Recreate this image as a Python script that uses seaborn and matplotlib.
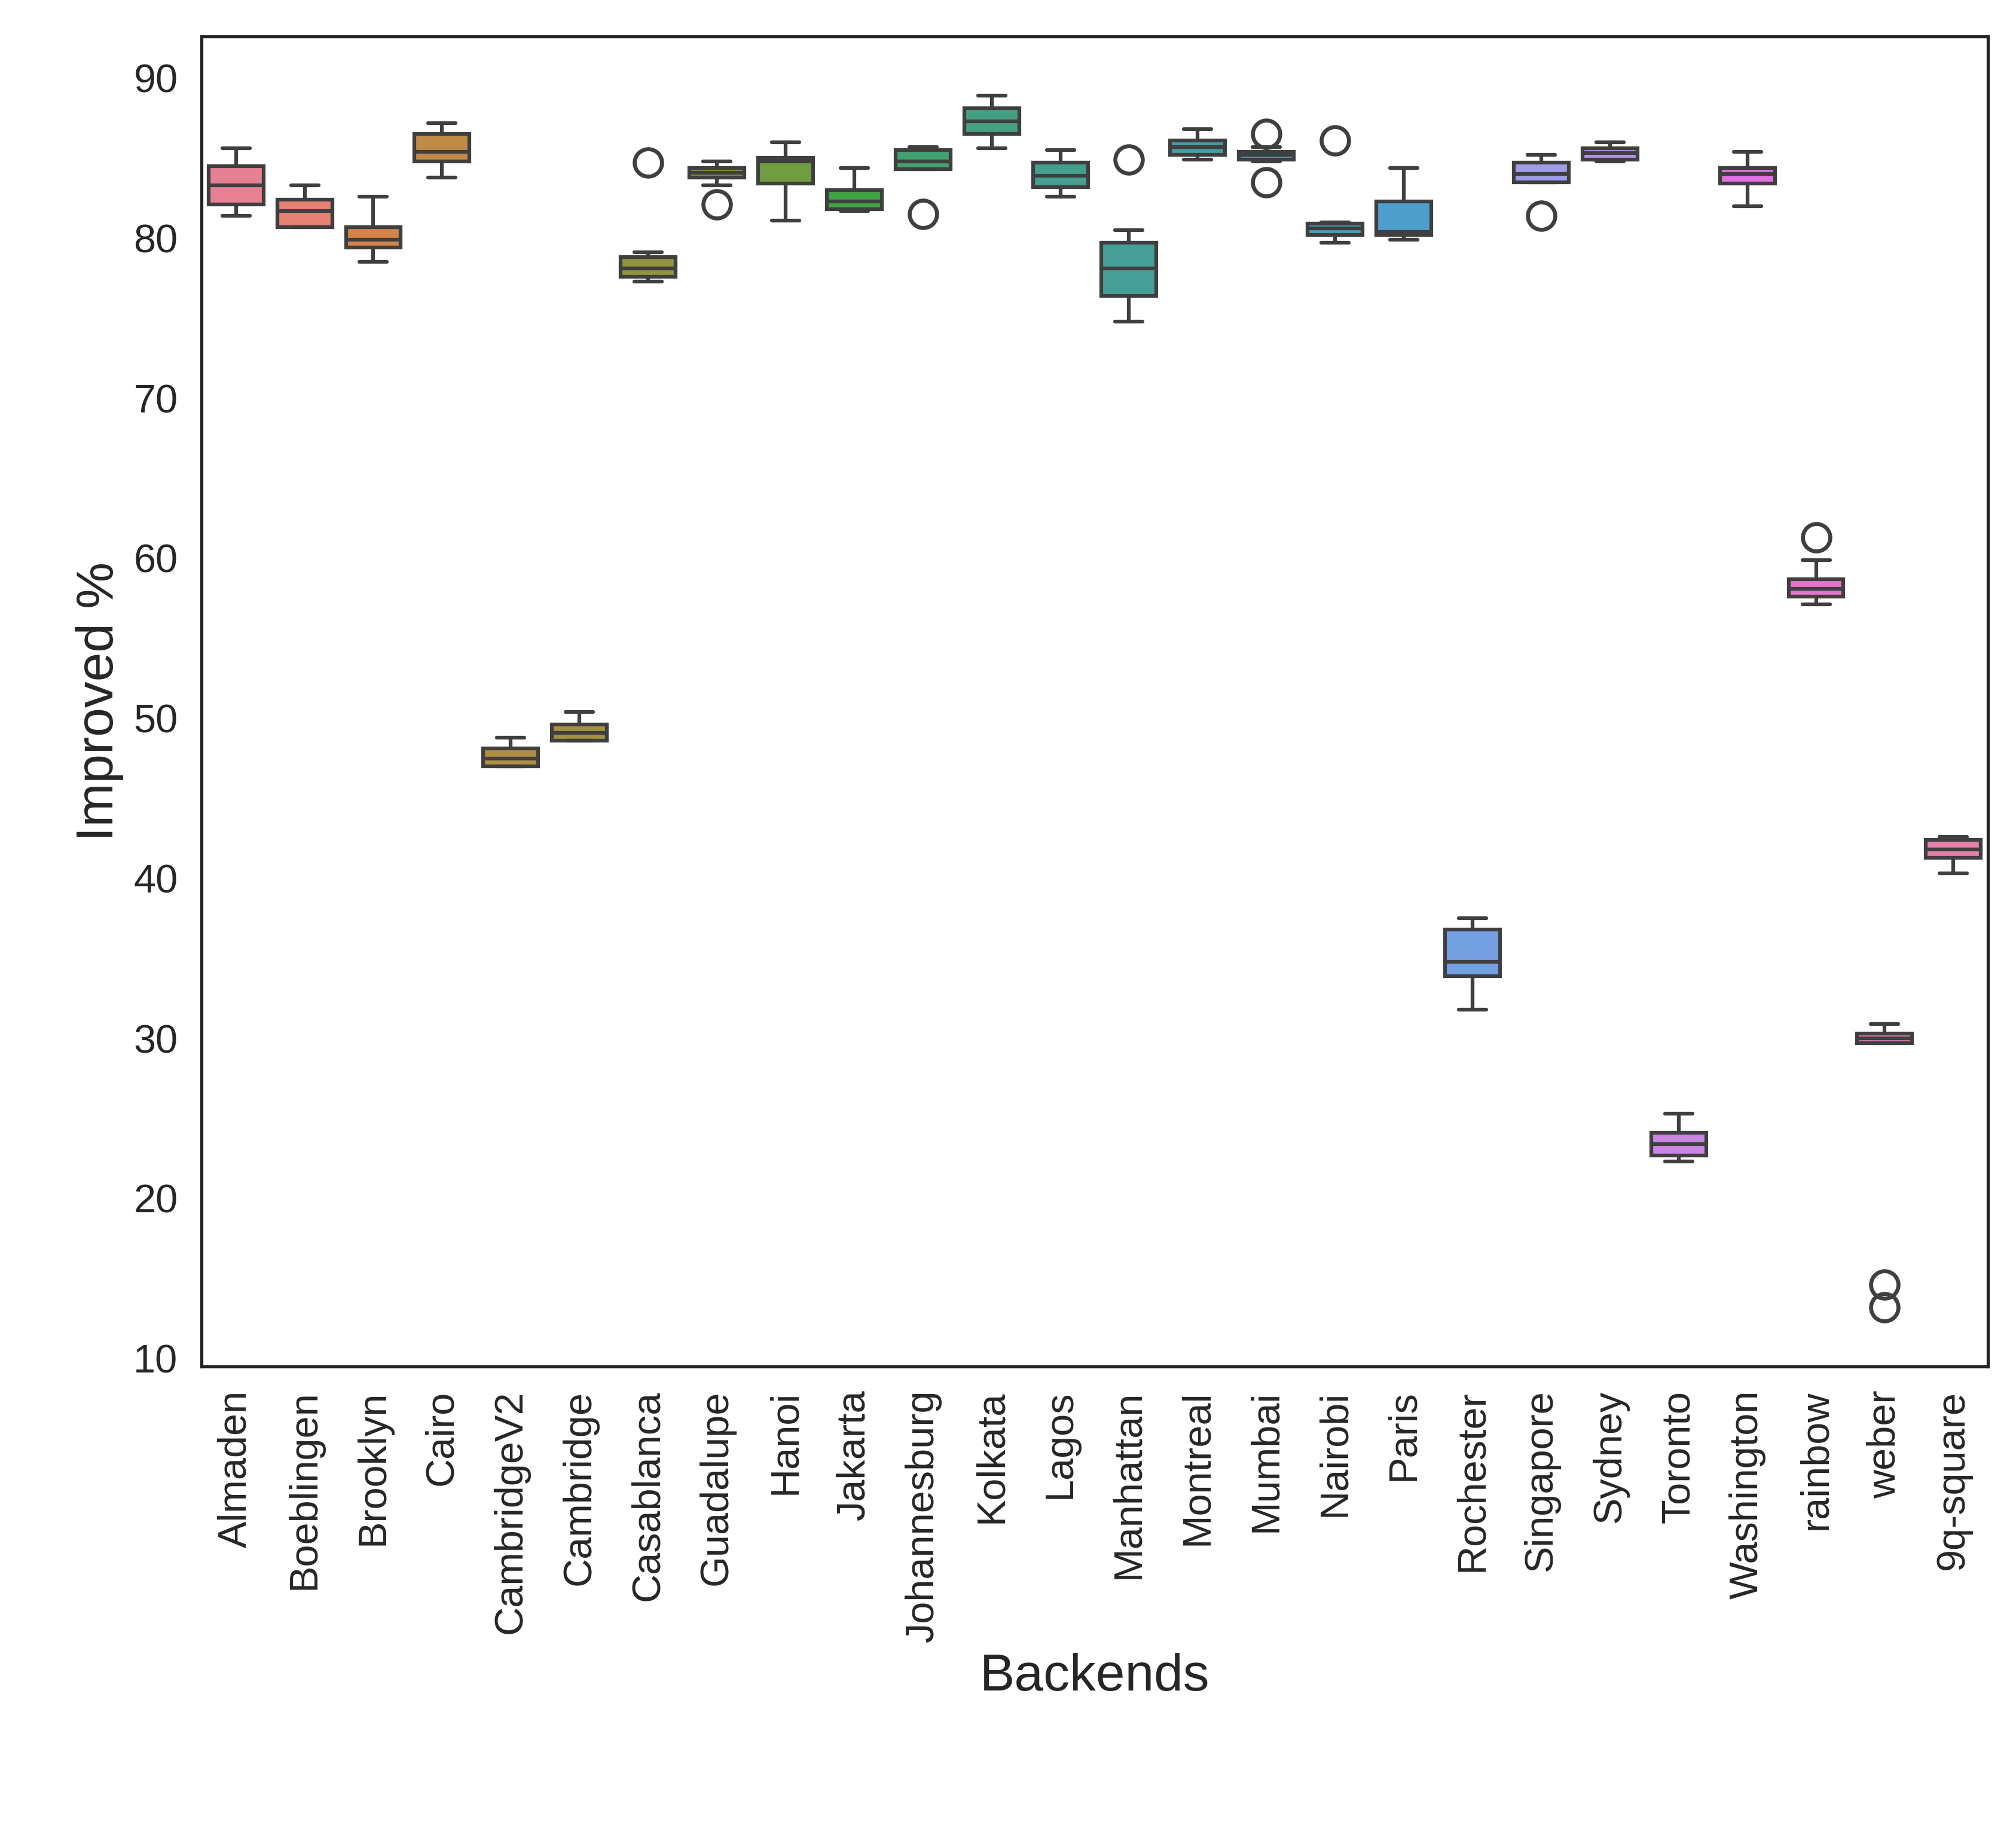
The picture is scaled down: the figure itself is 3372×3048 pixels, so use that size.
import pandas as pd
import seaborn as sns
import matplotlib.pyplot as plt

sns.set_theme(style="white")
plt.rcParams['font.family'] = ['Arial', 'Liberation Sans', 'DejaVu Sans']

backends = ["Almaden", "Boeblingen", "Brooklyn", "Cairo", "CambridgeV2", "Cambridge",
            "Casablanca", "Guadalupe", "Hanoi", "Jakarta", "Johannesburg", "Kolkata",
            "Lagos", "Manhattan", "Montreal", "Mumbai", "Nairobi", "Paris", "Rochester",
            "Singapore", "Sydney", "Toronto", "Washington", "rainbow", "weber", "9q-square"]

# (min, q1, median, q3, max)
summaries = [
    (81.4, 82.1, 83.3, 84.5, 85.6),
    (80.7, 80.7, 81.7, 82.4, 83.3),
    (78.5, 79.4, 79.9, 80.7, 82.6),
    (83.8, 84.8, 85.4, 86.5, 87.2),
    (47.0, 47.0, 47.5, 48.1, 48.8),
    (48.6, 48.6, 49.1, 49.6, 50.4),
    (77.3, 77.6, 78.1, 78.8, 79.1),
    (83.3, 83.8, 84.1, 84.4, 84.8),
    (81.1, 83.4, 84.8, 85.0, 86.0),
    (81.7, 81.8, 82.3, 83.0, 84.4),
    (84.3, 84.3, 84.8, 85.5, 85.7),
    (85.6, 86.5, 87.3, 88.1, 88.9),
    (82.6, 83.2, 83.9, 84.7, 85.5),
    (74.8, 76.4, 78.1, 79.7, 80.5),
    (84.9, 85.2, 85.7, 86.1, 86.8),
    (84.8, 84.9, 85.2, 85.4, 85.7),
    (79.7, 80.2, 80.6, 80.9, 81.0),
    (79.9, 80.2, 80.4, 82.3, 84.4),
    (31.8, 33.9, 34.8, 36.8, 37.5),
    (83.5, 83.5, 84.0, 84.7, 85.2),
    (84.8, 84.9, 85.3, 85.6, 86.0),
    (22.3, 22.7, 23.4, 24.1, 25.3),
    (82.0, 83.4, 84.0, 84.4, 85.4),
    (57.1, 57.6, 58.1, 58.7, 59.9),
    (29.7, 29.7, 30.0, 30.3, 30.9),
    (40.3, 41.3, 41.8, 42.4, 42.6),
]
outliers = {
    "Casablanca": [84.7], "Guadalupe": [82.1], "Johannesburg": [81.5],
    "Manhattan": [84.9], "Mumbai": [86.5, 83.5], "Nairobi": [86.1],
    "Singapore": [81.4], "rainbow": [61.3], "weber": [14.6, 13.2],
}

rows = []
for b, (lo, q1, med, q3, hi) in zip(backends, summaries):
    vals = [lo] + [q1] * 4 + [med] * 3 + [q3] * 4 + [hi] + outliers.get(b, [])
    rows += [(b, v) for v in vals]
df = pd.DataFrame(rows, columns=["Backends", "Improved %"])

fig, ax = plt.subplots(figsize=(11.24, 10.16))
sns.boxplot(data=df, x="Backends", y="Improved %", hue="Backends", order=backends,
            palette="husl", legend=False, linewidth=1.5, fliersize=11,
            flierprops=dict(markeredgewidth=1.6), ax=ax)
ax.set_ylim(9.5, 92.6)
ax.set_yticks(range(10, 91, 10))
ax.tick_params(axis='y', labelsize=16)
ax.tick_params(axis='x', labelsize=16, rotation=90)
ax.set_xlabel("Backends", fontsize=21)
ax.set_ylabel("Improved %", fontsize=21)
for s in ax.spines.values():
    s.set_color("#222222")
plt.subplots_adjust(left=0.1, right=0.986, top=0.98, bottom=0.25)
plt.savefig("out.png", dpi=300)
